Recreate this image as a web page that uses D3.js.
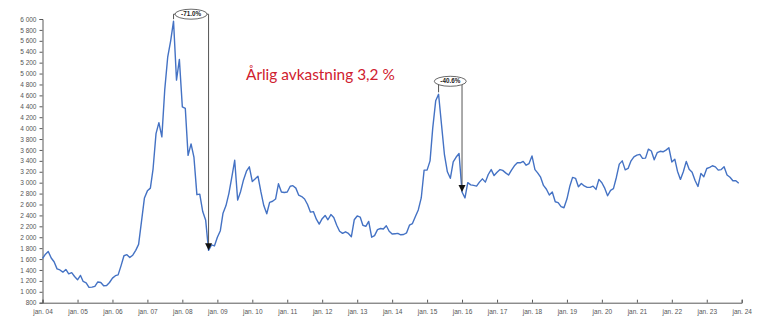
<!DOCTYPE html>
<html>
<head>
<meta charset="utf-8">
<script src="https://cdn.jsdelivr.net/npm/d3@7"></script>
<style>
	body { margin: 0; background: #fff; }
	svg { display: block; font-family: "Liberation Sans", Arial, sans-serif; }
</style>
</head>
<body>
<svg id="chart" width="768" height="329"></svg>
<script>
// Monthly index values, Jan 2004 - Dec 2023
const startMonth = "2004-01";
const values = [
	1610, 1690, 1740, 1620, 1550, 1420, 1400, 1360, 1410, 1330, 1350, 1280,
	1220, 1300, 1190, 1165, 1080, 1085, 1100, 1180, 1170, 1110, 1115, 1170,
	1250, 1295, 1310, 1480, 1660, 1680, 1630, 1670, 1760, 1870, 2300, 2720,
	2850, 2900, 3250, 3900, 4100, 3840, 4700, 5300, 5600, 5960, 4880, 5260,
	4390, 4360, 3500, 3710, 3470, 2780, 2790, 2470, 2310, 1760, 1860, 1840,
	2000, 2120, 2440, 2580, 2800, 3100, 3410, 2680, 2840, 3050, 3210, 3290,
	3020, 3070, 3120, 2830, 2580, 2430, 2640, 2660, 2700, 2980, 2830, 2820,
	2830, 2935, 2945, 2900, 2770, 2745, 2700, 2600, 2460, 2470, 2330, 2240,
	2340, 2400, 2320, 2415, 2360, 2220, 2110, 2070, 2100, 2070, 2010, 2320,
	2390, 2370, 2220, 2200, 2290, 2000, 2030, 2140, 2160, 2150, 2210, 2110,
	2060, 2065, 2070, 2045, 2050, 2080, 2220, 2250, 2380, 2500, 2720, 3230,
	3230, 3400, 4000, 4500, 4620, 4060, 3520, 3200, 3080, 3380, 3470, 3535,
	2830, 2720, 3000, 2960, 2950, 2937, 3010, 3070, 3010, 3150, 3240, 3130,
	3190, 3240, 3225, 3180, 3140, 3230, 3310, 3365, 3365, 3390, 3320, 3350,
	3490, 3240, 3180, 3100, 2950, 2880, 2773, 2830, 2650, 2635, 2560, 2540,
	2700, 2940, 3097, 3080, 2925, 2985, 2940, 2913, 2913, 2937, 2877, 3060,
	2998, 2895, 2760, 2860, 2890, 3100, 3340, 3400, 3235, 3260, 3400, 3474,
	3505, 3518, 3445, 3450, 3615, 3580, 3420, 3550, 3575, 3566, 3597, 3640,
	3380, 3430, 3210, 3060, 3200, 3390, 3245, 3190, 3040, 2930, 3170, 3110,
	3260, 3280, 3310, 3290, 3230, 3240, 3290, 3140, 3100, 3035, 3035, 2990
];

const yTicks = d3.range(800, 6001, 200);
const xTickYears = d3.range(2004, 2025);

// drawdowns: month of peak, month of trough, label
const ddPeaks = ["2007-10", "2015-05"];
const ddTroughs = ["2008-10", "2016-01"];
const ddLabels = ["-71.0%", "-40.6%"];

const title = "Årlig avkastning 3,2 %";

const parseMonth = d3.timeParse("%Y-%m");
const start = parseMonth(startMonth);
const data = values.map((v, i) => ({ date: d3.timeMonth.offset(start, i), value: v }));

const svg = d3.select("#chart");
const mLeft = 42.5, mRight = 741.7, mTop = 19, mBottom = 302.7;

const x = d3.scaleTime()
	.domain([new Date(2004, 0, 1), new Date(2024, 0, 1)])
	.range([mLeft, mRight]);
const y = d3.scaleLinear().domain([800, 6000]).range([mBottom, mTop]);

const fmt = d3.formatLocale({ decimal: ",", thousands: "\u00a0", grouping: [3], currency: ["", ""] }).format(",d");

// y axis
const yAxis = svg.append("g")
	.attr("transform", `translate(${mLeft},0)`)
	.call(d3.axisLeft(y).tickValues(yTicks).tickSize(3).tickPadding(3).tickFormat(fmt));
yAxis.select(".domain").attr("stroke", "#595959");
yAxis.selectAll(".tick line").attr("stroke", "#595959");
yAxis.selectAll("text").attr("fill", "#555").style("font-size", "6.5px");

// x axis
const xAxis = svg.append("g")
	.attr("transform", `translate(0,${mBottom})`)
	.call(d3.axisBottom(x)
		.tickValues(xTickYears.map(yr => new Date(yr, 0, 1)))
		.tickSize(-3)
		.tickPadding(7)
		.tickFormat(d => "jan. " + d3.timeFormat("%y")(d)));
xAxis.select(".domain").attr("stroke", "#595959");
xAxis.selectAll(".tick line").attr("stroke", "#595959");
xAxis.selectAll("text").attr("fill", "#555").style("font-size", "6.5px");

// line
const line = d3.line().x(d => x(d.date)).y(d => y(d.value));
svg.append("path")
	.datum(data)
	.attr("fill", "none")
	.attr("stroke", "#4472C4")
	.attr("stroke-width", 1.4)
	.attr("stroke-linejoin", "round")
	.attr("d", line);

// title
svg.append("text")
	.attr("x", 246)
	.attr("y", 80)
	.attr("fill", "#D0202E")
	.style("font-family", "Lato, 'Open Sans', sans-serif")
	.style("font-size", "15.4px")
	.text(title);

// drawdown annotations
const lift = [7, 13];
ddPeaks.forEach((p, i) => {
	const pd = parseMonth(p), td = parseMonth(ddTroughs[i]);
	const pv = data.find(d => +d.date === +pd).value;
	const tv = data.find(d => +d.date === +td).value;
	const px = x(pd), tx = x(td);
	const py = y(pv), ty = y(tv);
	const cy = py - lift[i];
	const cx = (px + tx) / 2;
	const g = svg.append("g");
	g.append("path")
		.attr("d", `M${px},${py - 2}V${cy}H${tx}V${ty - 6}`)
		.attr("fill", "none")
		.attr("stroke", "#555")
		.attr("stroke-width", 1);
	g.append("path")
		.attr("d", `M${tx - 3.5},${ty - 7}L${tx + 3.5},${ty - 7}L${tx},${ty}Z`)
		.attr("fill", "#111");
	g.append("ellipse")
		.attr("cx", cx).attr("cy", cy)
		.attr("rx", 16).attr("ry", 5)
		.attr("fill", "#fff")
		.attr("stroke", "#444")
		.attr("stroke-width", 0.8);
	g.append("text")
		.attr("x", cx).attr("y", cy + 2.2)
		.attr("text-anchor", "middle")
		.attr("fill", "#222")
		.style("font-size", "6.3px")
		.style("font-weight", "bold")
		.text(ddLabels[i]);
});
</script>
</body>
</html>
